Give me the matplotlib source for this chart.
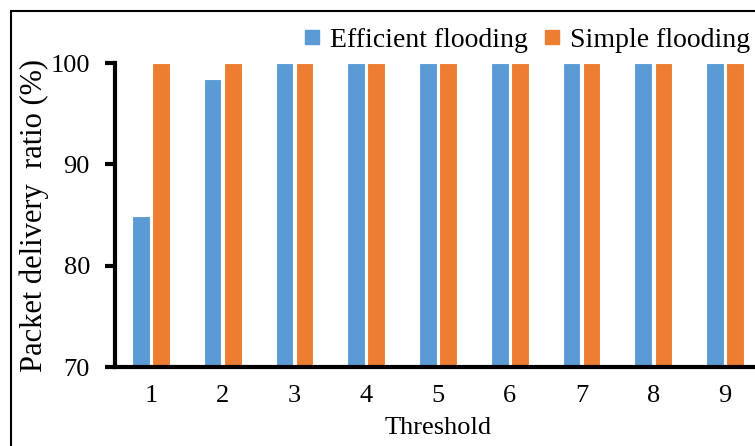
import numpy as np
import matplotlib.pyplot as plt
from matplotlib.lines import Line2D
from matplotlib.patches import Rectangle

thresholds = [1, 2, 3, 4, 5, 6, 7, 8, 9]
efficient = [84.9, 98.4, 100, 100, 100, 100, 100, 100, 100]
simple = [100, 100, 100, 100, 100, 100, 100, 100, 100]
series_names = ['Efficient flooding', 'Simple flooding']

blue = '#5B9BD5'
orange = '#ED7D31'

plt.rcParams['font.family'] = ['Liberation Serif', 'DejaVu Serif']

W, H = 755, 446
fig = plt.figure(figsize=(W / 100, H / 100), dpi=100)
ax = fig.add_axes([115 / W, (H - 367) / H, 646 / W, 304 / H])

x = np.array(thresholds)
bw = 0.245
ax.bar(x - 0.14, efficient, bw, color=blue, edgecolor='white', linewidth=0.8)
ax.bar(x + 0.14, simple, bw, color=orange, edgecolor='white', linewidth=0.8)

ax.set_xlim(0.5, 9.5)
ax.set_ylim(70, 100)
ax.set_yticks([70, 80, 90, 100])
ax.set_xticks(x)
ax.tick_params(axis='y', direction='out', length=7, width=3, labelsize=19, pad=11)
ax.tick_params(axis='x', length=0, labelsize=19, pad=13)
for s in ['top', 'right']:
    ax.spines[s].set_visible(False)
ax.spines['left'].set_linewidth(3)
ax.spines['bottom'].set_linewidth(3)

ax.set_xlabel('Threshold', fontsize=19, labelpad=7)
ax.set_ylabel('Packet delivery  ratio (%)', fontsize=22)
ax.yaxis.set_label_coords(-66 / 646, 0.5)

handles = [Line2D([], [], marker='s', linestyle='none', color=blue, markersize=10),
           Line2D([], [], marker='s', linestyle='none', color=orange, markersize=10)]
fig.legend(handles, series_names, loc='center right', bbox_to_anchor=(750 / W, 1 - 40 / H),
           ncol=2, frameon=False, fontsize=20, handlelength=0.7, handletextpad=0.3,
           columnspacing=0.5, borderaxespad=0, borderpad=0)

# outer frame (partly cut off by the image edge)
fig.patches.append(Rectangle((11 / W, -0.1), 1.2, 1 - 11 / H + 0.1, transform=fig.transFigure,
                             fill=False, edgecolor='black', linewidth=1.5, clip_on=False))

fig.savefig('out.png', dpi=100)
